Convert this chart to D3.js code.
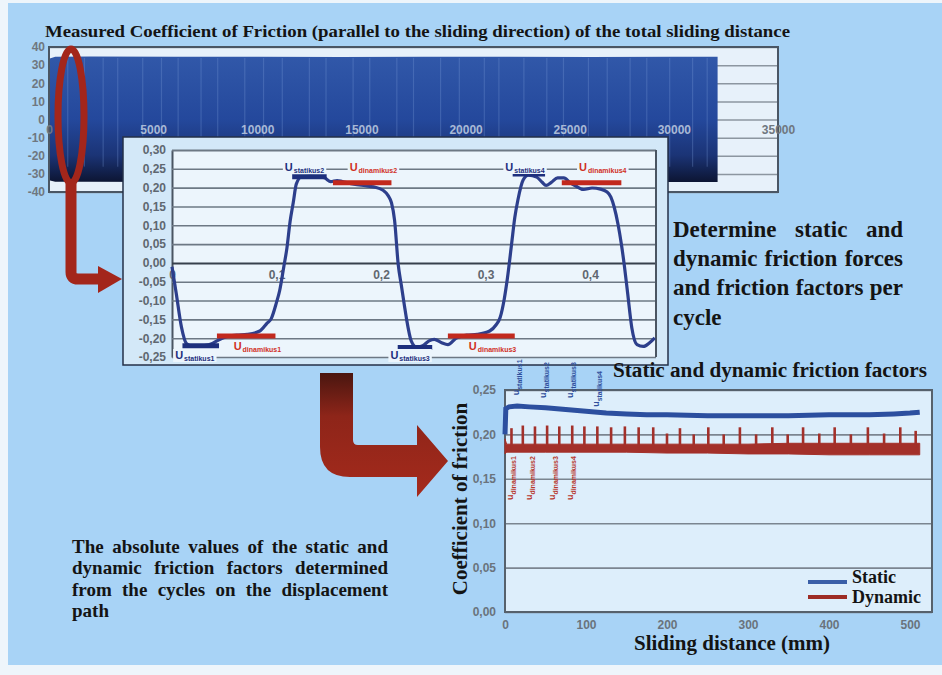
<!DOCTYPE html>
<html>
<head>
<meta charset="utf-8">
<script src="https://cdn.jsdelivr.net/npm/d3@7"></script>
<style>
  html, body { margin: 0; padding: 0; background: #eef5fb; }
  svg { display: block; }
  text { font-family: "Liberation Sans", Arial, sans-serif; }
  .serif { font-family: "Liberation Serif", "Times New Roman", serif; font-weight: bold; fill: #141414; }
  .tick-label { font-weight: bold; font-size: 12px; }
</style>
</head>
<body>
<svg width="942" height="675"></svg>
<script>
// ---- Top chart: measured friction over the whole sliding distance
var rawX = [0, 300, 2000, 6000, 10000, 14000, 18000, 22000, 26000, 30000, 32100];
var rawUpper = [33.5, 34.6, 34.7, 34.6, 34.6, 34.5, 34.6, 34.6, 34.5, 34.6, 34.6];
var rawLower = [-33.5, -34.4, -34.4, -34.5, -34.4, -34.4, -34.5, -34.4, -34.4, -34.5, -34.5];
var rawStreaks = [900, 1700, 2600, 3300, 4500, 5400, 6200, 7300, 8100, 9400, 10300, 11200, 12500, 13300,
  14600, 15400, 16700, 17500, 18800, 19700, 20900, 21600, 22800, 23900, 24700, 25900, 26800, 27900,
  28700, 29800, 30900, 31600];
var rawTicksX = [0, 5000, 10000, 15000, 20000, 25000, 30000, 35000];
var rawTicksY = [-40, -30, -20, -10, 0, 10, 20, 30, 40];

// ---- Inset: two cycles of the signal
var cycleX = [0.000, 0.004, 0.009, 0.014, 0.020, 0.030, 0.038, 0.043, 0.052, 0.062, 0.072, 0.084, 0.091,
  0.095, 0.100, 0.103, 0.107, 0.110, 0.113, 0.116, 0.119, 0.124, 0.132, 0.140, 0.146, 0.152, 0.158,
  0.163, 0.174, 0.185, 0.193, 0.202, 0.207, 0.210, 0.213, 0.2165, 0.2195, 0.2225, 0.2245, 0.229,
  0.234, 0.240, 0.246, 0.251, 0.258, 0.264, 0.272, 0.282, 0.292, 0.304, 0.310, 0.314, 0.318, 0.321,
  0.325, 0.328, 0.331, 0.336, 0.341, 0.349, 0.354, 0.358, 0.363, 0.369, 0.375, 0.381, 0.386, 0.394,
  0.402, 0.410, 0.416, 0.420, 0.423, 0.427, 0.430, 0.433, 0.436, 0.440, 0.445, 0.451, 0.457, 0.462];
var cycleY = [-0.010, -0.080, -0.170, -0.215, -0.222, -0.220, -0.215, -0.207, -0.196, -0.192, -0.190,
  -0.181, -0.160, -0.148, -0.105, -0.074, -0.010, 0.040, 0.110, 0.160, 0.210, 0.229, 0.230, 0.229,
  0.226, 0.216, 0.219, 0.216, 0.209, 0.205, 0.202, 0.193, 0.178, 0.160, 0.113, -0.005, -0.060,
  -0.115, -0.150, -0.208, -0.224, -0.220, -0.207, -0.203, -0.212, -0.217, -0.200, -0.192, -0.190,
  -0.181, -0.165, -0.145, -0.095, -0.040, 0.051, 0.120, 0.167, 0.220, 0.233, 0.228, 0.215, 0.206,
  0.214, 0.226, 0.226, 0.213, 0.205, 0.195, 0.199, 0.196, 0.189, 0.175, 0.150, 0.100, 0.050, -0.010,
  -0.080, -0.172, -0.217, -0.222, -0.212, -0.199];
var cycleTicksX = [0, 0.1, 0.2, 0.3, 0.4];
var cycleTicksY = [-0.25, -0.20, -0.15, -0.10, -0.05, 0, 0.05, 0.10, 0.15, 0.20, 0.25, 0.30];

var staticStart = [0.010, 0.115, 0.216, 0.326];
var staticEnd = [0.045, 0.148, 0.249, 0.357];
var staticLevel = [-0.220, 0.229, -0.225, 0.236];
var staticNames = ['statikus1', 'statikus2', 'statikus3', 'statikus4'];
var dynamicStart = [0.043, 0.154, 0.264, 0.373];
var dynamicEnd = [0.099, 0.210, 0.328, 0.430];
var dynamicLevel = [-0.194, 0.213, -0.194, 0.213];
var dynamicNames = ['dinamikus1', 'dinamikus2', 'dinamikus3', 'dinamikus4'];

// ---- Bottom chart: static and dynamic friction factors per cycle
var slideStaticMm = [0, 1, 5, 15, 30, 50, 75, 100, 125, 150, 175, 200, 250, 300, 350, 400, 450, 480, 500, 512];
var slideStaticMu = [0.200, 0.229, 0.231, 0.232, 0.231, 0.230, 0.228, 0.226, 0.224, 0.223, 0.222, 0.222,
  0.221, 0.221, 0.221, 0.222, 0.222, 0.223, 0.224, 0.225];
var slideDynMm = [0, 2, 50, 100, 150, 200, 250, 300, 350, 400, 450, 500, 512];
var slideDynLow = [0.178, 0.180, 0.180, 0.180, 0.180, 0.179, 0.179, 0.178, 0.178, 0.177, 0.177, 0.177, 0.177];
var slideDynHigh = [0.195, 0.189, 0.189, 0.189, 0.189, 0.189, 0.189, 0.189, 0.190, 0.190, 0.190, 0.190, 0.190];
var spikeMm = [8, 22, 37, 52, 67, 83, 98, 114, 131, 148, 165, 183, 200, 216, 233, 251, 270, 290, 310, 330,
  349, 368, 388, 407, 427, 448, 468, 488, 507];
var spikeMu = [0.207, 0.210, 0.209, 0.210, 0.209, 0.210, 0.209, 0.209, 0.208, 0.209, 0.208, 0.208, 0.201,
  0.207, 0.200, 0.208, 0.200, 0.208, 0.200, 0.208, 0.200, 0.208, 0.201, 0.208, 0.200, 0.208, 0.201,
  0.208, 0.204];
var slideTicksX = [0, 100, 200, 300, 400, 500];
var slideTicksY = [0, 0.05, 0.10, 0.15, 0.20, 0.25];
var markStaticMm = [17, 50, 84, 116];
var markStaticMu = [0.244, 0.241, 0.241, 0.231];
var markDynamicMm = [10, 33, 62, 84];
var markDynamicMu = [0.126, 0.126, 0.126, 0.126];
var legendNames = ['Static', 'Dynamic'];

var blueDark = '#1d2f7d';
var redBar = '#c2291d';
var comma = function (d) { return d3.format('.2f')(d).replace('.', ',').replace('−', '-'); };
var plain = function (d) { return String(d); };

var svg = d3.select('svg');
var defs = svg.append('defs');

// Justify a line by widening the word gaps only
function justify (textSel, width) {
  var text = textSel.text();
  var gaps = text.split(' ').length - 1;
  var natural = textSel.node().getComputedTextLength();
  if (gaps > 0) textSel.attr('word-spacing', (width - natural) / gaps);
}

// Slide background
svg.append('rect')
  .attr('x', 8).attr('y', 3).attr('width', 934).attr('height', 662)
  .attr('fill', '#a8d3f6');

// Title
svg.append('text')
  .attr('class', 'serif')
  .attr('x', 45).attr('y', 37)
  .attr('font-size', 17)
  .attr('textLength', 745).attr('lengthAdjust', 'spacingAndGlyphs')
  .text('Measured Coefficient of Friction (parallel to the sliding direction) of the total sliding distance');

// ===== TOP CHART =====
var xRaw = d3.scaleLinear().domain([0, 35000]).range([49, 778]);
var yRaw = d3.scaleLinear().domain([-40, 40]).range([192, 47]);

var topChart = svg.append('g');
topChart.append('rect')
  .attr('x', xRaw(0)).attr('y', yRaw(40))
  .attr('width', xRaw(35000) - xRaw(0)).attr('height', yRaw(-40) - yRaw(40))
  .attr('fill', '#e7f1fa');

topChart.append('g')
  .attr('transform', 'translate(' + xRaw(0) + ',0)')
  .call(d3.axisLeft(yRaw).tickValues(rawTicksY).tickSize(-(xRaw(35000) - xRaw(0))).tickFormat(''))
  .call(function (g) { g.select('.domain').remove(); })
  .selectAll('line')
    .attr('stroke', '#8c96a0')
    .attr('stroke-width', 1.5);

var bandGrad = defs.append('linearGradient')
  .attr('id', 'bandGrad')
  .attr('gradientUnits', 'userSpaceOnUse')
  .attr('x1', 0).attr('x2', 0)
  .attr('y1', yRaw(35)).attr('y2', yRaw(-35));
bandGrad.append('stop').attr('offset', '0%').attr('stop-color', '#3158a9');
bandGrad.append('stop').attr('offset', '50%').attr('stop-color', '#24489c');
bandGrad.append('stop').attr('offset', '78%').attr('stop-color', '#1b3476');
bandGrad.append('stop').attr('offset', '100%').attr('stop-color', '#0c1430');

var rawArea = d3.area()
  .x(function (i) { return xRaw(rawX[i]); })
  .y0(function (i) { return yRaw(rawLower[i]); })
  .y1(function (i) { return yRaw(rawUpper[i]); });

topChart.append('path')
  .datum(d3.range(rawX.length))
  .attr('d', rawArea)
  .attr('fill', 'url(#bandGrad)');

topChart.selectAll('.streak')
  .data(rawStreaks)
  .enter()
  .append('line')
    .attr('class', 'streak')
    .attr('x1', function (d) { return xRaw(d); })
    .attr('x2', function (d) { return xRaw(d); })
    .attr('y1', yRaw(34))
    .attr('y2', yRaw(-26))
    .attr('stroke', '#7c9bd6')
    .attr('stroke-opacity', 0.3)
    .attr('stroke-width', 1.2);

topChart.append('rect')
  .attr('x', xRaw(0)).attr('y', yRaw(40))
  .attr('width', xRaw(35000) - xRaw(0)).attr('height', yRaw(-40) - yRaw(40))
  .attr('fill', 'none')
  .attr('stroke', '#4a5664')
  .attr('stroke-width', 2);

topChart.append('g')
  .attr('transform', 'translate(' + (xRaw(0) - 4) + ',0)')
  .call(d3.axisLeft(yRaw).tickValues(rawTicksY).tickSize(0).tickPadding(0).tickFormat(plain))
  .call(function (g) { g.select('.domain').remove(); })
  .selectAll('text')
    .attr('class', 'tick-label')
    .attr('fill', '#6f7780');

var rawMax = d3.max(rawX);
topChart.append('g')
  .attr('transform', 'translate(0,' + yRaw(0) + ')')
  .call(d3.axisBottom(xRaw).tickValues(rawTicksX).tickSize(0).tickPadding(6).tickFormat(plain))
  .call(function (g) { g.select('.domain').remove(); })
  .selectAll('text')
    .attr('class', 'tick-label')
    .attr('fill', function (d) { return d > 0 && d < rawMax ? '#a8b9d6' : '#6f7780'; });

// ===== INSET: cycle detail =====
var xCyc = d3.scaleLinear().domain([0, 0.1]).range([172, 276.5]);
var yCyc = d3.scaleLinear().domain([-0.25, 0.30]).range([357, 150]);
var cycRight = 656;

var inset = svg.append('g');
inset.append('rect')
  .attr('x', 123).attr('y', 137).attr('width', 545).attr('height', 228)
  .attr('fill', '#d3e8f8')
  .attr('stroke', '#243048')
  .attr('stroke-width', 1.5);

inset.append('rect')
  .attr('x', xCyc(0)).attr('y', yCyc(0.30))
  .attr('width', cycRight - xCyc(0)).attr('height', yCyc(-0.25) - yCyc(0.30))
  .attr('fill', '#ecf5fc');

inset.append('g')
  .attr('transform', 'translate(' + xCyc(0) + ',0)')
  .call(d3.axisLeft(yCyc).tickValues(cycleTicksY).tickSizeInner(-(cycRight - xCyc(0))).tickSizeOuter(0).tickPadding(6).tickFormat(comma))
  .call(function (g) {
    g.select('.domain').attr('stroke', '#4a5562').attr('stroke-width', 2);
    g.selectAll('line')
      .attr('stroke', function (d) { return d === 0 ? '#37404c' : '#6d7884'; })
      .attr('stroke-width', function (d) { return d === 0 || d === 0.30 ? 2 : 1.6; });
    g.selectAll('text').attr('class', 'tick-label').attr('font-size', 12.5).attr('fill', '#5f6770');
  });

inset.append('line')
  .attr('x1', cycRight).attr('x2', cycRight)
  .attr('y1', yCyc(0.30)).attr('y2', yCyc(-0.25))
  .attr('stroke', '#4a5562').attr('stroke-width', 2);

inset.append('g')
  .attr('transform', 'translate(0,' + yCyc(0) + ')')
  .call(d3.axisBottom(xCyc).tickValues(cycleTicksX).tickSize(0).tickPadding(8)
    .tickFormat(function (d) { return d === 0 ? '0' : d3.format('.1f')(d).replace('.', ','); }))
  .call(function (g) { g.select('.domain').remove(); })
  .selectAll('text')
    .attr('class', 'tick-label')
    .attr('font-size', 12.5)
    .attr('fill', '#5f6770');

var cycleLine = d3.line()
  .x(function (i) { return xCyc(cycleX[i]); })
  .y(function (i) { return yCyc(cycleY[i]); })
  .curve(d3.curveMonotoneX);

inset.append('path')
  .datum(d3.range(cycleX.length))
  .attr('d', cycleLine)
  .attr('fill', 'none')
  .attr('stroke', '#2d3f8c')
  .attr('stroke-width', 3.2);

function drawBars (starts, ends, levels, color) {
  inset.selectAll(null)
    .data(d3.range(starts.length))
    .enter()
    .append('line')
      .attr('x1', function (i) { return xCyc(starts[i]); })
      .attr('x2', function (i) { return xCyc(ends[i]); })
      .attr('y1', function (i) { return yCyc(levels[i]); })
      .attr('y2', function (i) { return yCyc(levels[i]); })
      .attr('stroke', color)
      .attr('stroke-width', 5);
}
drawBars(staticStart, staticEnd, staticLevel, blueDark);
drawBars(dynamicStart, dynamicEnd, dynamicLevel, redBar);

// mu labels with a patch of plot colour behind them
function muLabel (x, y, name, color) {
  var g = inset.append('g');
  var t = g.append('text').attr('x', x).attr('y', y).attr('fill', color).attr('font-weight', 'bold');
  t.append('tspan').attr('font-size', 11).text('U');
  t.append('tspan').attr('font-size', 7).attr('dy', 2).attr('dx', 1).text(name);
  var b = t.node().getBBox();
  g.insert('rect', 'text')
    .attr('x', b.x - 2).attr('y', b.y)
    .attr('width', b.width + 4).attr('height', b.height)
    .attr('fill', '#ecf5fc');
}
staticStart.forEach(function (s, i) {
  var y = staticLevel[i] > 0 ? 171 : 359;
  muLabel(xCyc(s - 0.007), y, staticNames[i], blueDark);
});
dynamicStart.forEach(function (s, i) {
  var mid = (s + dynamicEnd[i]) / 2;
  var y = dynamicLevel[i] > 0 ? 171 : 350;
  muLabel(xCyc(mid - 0.012), y, dynamicNames[i], '#d0301f');
});

// ===== Red highlight ellipse and small arrow =====
var arrowRed = '#a3261b';
svg.append('ellipse')
  .attr('cx', 71).attr('cy', 116).attr('rx', 13).attr('ry', 67)
  .attr('fill', 'none')
  .attr('stroke', arrowRed)
  .attr('stroke-width', 7);

svg.append('path')
  .attr('d', 'M71,180 L71,272 Q71,279 78,279 L100,279')
  .attr('fill', 'none')
  .attr('stroke', arrowRed)
  .attr('stroke-width', 11);
svg.append('path')
  .attr('d', 'M98,266 L122,279 L98,293 Z')
  .attr('fill', arrowRed);

// Right hand explanation
var determineLines = ['Determine static and', 'dynamic friction forces', 'and friction factors per', 'cycle'];
determineLines.forEach(function (line, i) {
  var t = svg.append('text')
    .attr('class', 'serif')
    .attr('x', 673).attr('y', 237 + i * 29.2)
    .attr('font-size', 23)
    .text(line);
  if (i < determineLines.length - 1) justify(t, 230);
});

// ===== Big curved arrow =====
var bigGrad = defs.append('linearGradient')
  .attr('id', 'bigArrow')
  .attr('x1', 0).attr('x2', 0).attr('y1', 0).attr('y2', 1);
bigGrad.append('stop').attr('offset', '0%').attr('stop-color', '#4a1610');
bigGrad.append('stop').attr('offset', '35%').attr('stop-color', '#8e2519');
bigGrad.append('stop').attr('offset', '100%').attr('stop-color', '#a52a1c');

svg.append('path')
  .attr('d', 'M320,373 L353,373 L353,440 Q353,445 358,445 L417,445 L417,425 L448,461 L417,497 L417,477 L350,477 Q320,477 320,447 Z')
  .attr('fill', 'url(#bigArrow)');

// ===== BOTTOM CHART =====
var xSlide = d3.scaleLinear().domain([0, 500]).range([505, 910]);
var ySlide = d3.scaleLinear().domain([0, 0.25]).range([612, 390]);
var slideRight = 932;

var bottom = svg.append('g');

bottom.append('text')
  .attr('class', 'serif')
  .attr('x', 613).attr('y', 377)
  .attr('font-size', 20)
  .attr('textLength', 314).attr('lengthAdjust', 'spacingAndGlyphs')
  .text('Static and dynamic friction factors');

bottom.append('rect')
  .attr('x', xSlide(0)).attr('y', ySlide(0.25))
  .attr('width', slideRight - xSlide(0)).attr('height', ySlide(0) - ySlide(0.25))
  .attr('fill', '#ddeefb');

bottom.append('g')
  .attr('transform', 'translate(' + xSlide(0) + ',0)')
  .call(d3.axisLeft(ySlide).tickValues(slideTicksY).tickSizeInner(-(slideRight - xSlide(0))).tickSizeOuter(0).tickPadding(9).tickFormat(comma))
  .call(function (g) {
    g.select('.domain').remove();
    g.selectAll('line').attr('stroke', '#7b8590').attr('stroke-width', 1.6);
    g.selectAll('text').attr('class', 'tick-label').attr('fill', '#6a737d');
  });

bottom.append('g')
  .attr('transform', 'translate(0,' + ySlide(0) + ')')
  .call(d3.axisBottom(xSlide).tickValues(slideTicksX).tickSize(0).tickPadding(8).tickFormat(plain))
  .call(function (g) { g.select('.domain').remove(); })
  .selectAll('text')
    .attr('class', 'tick-label')
    .attr('fill', '#6a737d');

bottom.append('rect')
  .attr('x', xSlide(0)).attr('y', ySlide(0.25))
  .attr('width', slideRight - xSlide(0)).attr('height', ySlide(0) - ySlide(0.25))
  .attr('fill', 'none')
  .attr('stroke', '#56616c')
  .attr('stroke-width', 2);

// dynamic: band plus spikes
var dynColor = '#a3302a';
var dynArea = d3.area()
  .x(function (i) { return xSlide(slideDynMm[i]); })
  .y0(function (i) { return ySlide(slideDynLow[i]); })
  .y1(function (i) { return ySlide(slideDynHigh[i]); });

bottom.append('path')
  .datum(d3.range(slideDynMm.length))
  .attr('d', dynArea)
  .attr('fill', dynColor)
  .attr('stroke', dynColor)
  .attr('stroke-width', 1);

bottom.selectAll('.spike')
  .data(d3.range(spikeMm.length))
  .enter()
  .append('line')
    .attr('class', 'spike')
    .attr('x1', function (i) { return xSlide(spikeMm[i]); })
    .attr('x2', function (i) { return xSlide(spikeMm[i]); })
    .attr('y1', ySlide(0.185))
    .attr('y2', function (i) { return ySlide(spikeMu[i]); })
    .attr('stroke', dynColor)
    .attr('stroke-width', 2.6);

// static line
var staticLine = d3.line()
  .x(function (i) { return xSlide(slideStaticMm[i]); })
  .y(function (i) { return ySlide(slideStaticMu[i]); });

bottom.append('path')
  .datum(d3.range(slideStaticMm.length))
  .attr('d', staticLine)
  .attr('fill', 'none')
  .attr('stroke', '#2c4f9f')
  .attr('stroke-width', 5);

// rotated mu markers
function rotatedMarker (mm, mu, name, color) {
  var t = bottom.append('text')
    .attr('transform', 'translate(' + xSlide(mm) + ',' + ySlide(mu) + ') rotate(-90)')
    .attr('fill', color)
    .attr('font-weight', 'bold');
  t.append('tspan').attr('font-size', 9).text('u');
  t.append('tspan').attr('font-size', 7).attr('dy', 3).text(name);
}
markStaticMm.forEach(function (mm, i) {
  rotatedMarker(mm, markStaticMu[i], staticNames[i], '#2f4f9c');
});
markDynamicMm.forEach(function (mm, i) {
  rotatedMarker(mm, markDynamicMu[i], dynamicNames[i], '#b8372c');
});

// legend
var legendColors = ['#3a5fa8', '#9c2c25'];
var legendBase = [583, 603];
var legendLine = [582, 597];
legendNames.forEach(function (name, i) {
  bottom.append('line')
    .attr('x1', 808).attr('x2', 847)
    .attr('y1', legendLine[i]).attr('y2', legendLine[i])
    .attr('stroke', legendColors[i])
    .attr('stroke-width', 4);
  bottom.append('text')
    .attr('class', 'serif')
    .attr('x', 852).attr('y', legendBase[i])
    .attr('font-size', 18)
    .text(name);
});

// axis titles
bottom.append('text')
  .attr('class', 'serif')
  .attr('x', 732).attr('y', 650)
  .attr('text-anchor', 'middle')
  .attr('font-size', 21)
  .text('Sliding distance (mm)');

bottom.append('text')
  .attr('class', 'serif')
  .attr('transform', 'translate(467,499) rotate(-90)')
  .attr('text-anchor', 'middle')
  .attr('font-size', 21)
  .text('Coefficient of friction');

// Bottom-left explanation
var absLines = ['The absolute values of the static and', 'dynamic friction factors determined',
  'from the cycles on the displacement', 'path'];
absLines.forEach(function (line, i) {
  var t = svg.append('text')
    .attr('class', 'serif')
    .attr('x', 72).attr('y', 553 + i * 21.3)
    .attr('font-size', 19)
    .text(line);
  if (i < absLines.length - 1) justify(t, 316);
});
</script>
</body>
</html>
